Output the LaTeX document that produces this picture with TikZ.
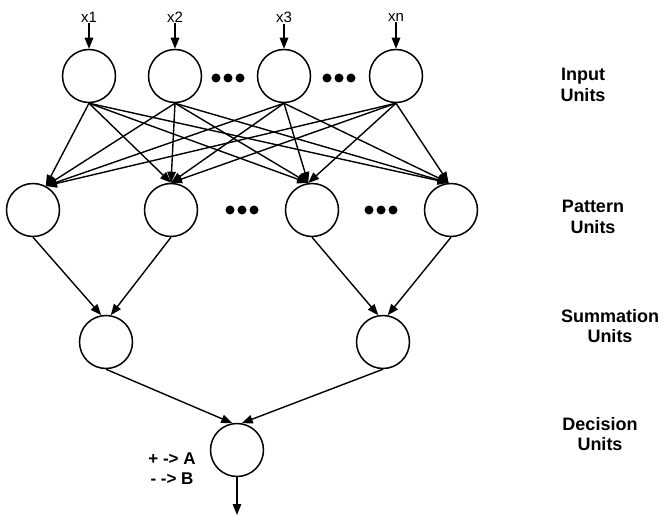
\documentclass[tikz,border=0pt]{standalone}
\usepackage{fontspec}
\setmainfont{Liberation Sans}
\usetikzlibrary{arrows.meta}
\begin{document}
\begin{tikzpicture}[x=1pt,y=-1pt,
  unit/.style={circle,draw,line width=1.5pt,minimum size=53pt,inner sep=0pt},
  conn/.style={line width=1.4pt,-{Triangle[length=11pt,width=8.5pt]}},
  lbl/.style={font=\fontsize{15}{17}\selectfont,inner sep=1pt},
  side/.style={font=\bfseries\fontsize{18}{20.5}\selectfont,align=center},
  dot/.style={circle,fill=black,minimum size=9pt,inner sep=0pt}]
\useasboundingbox (0,0) rectangle (662,516);
% input units
\node[unit] (i1) at (89,76) {};
\node[unit] (i2) at (175,76) {};
\node[unit] (i3) at (284,76) {};
\node[unit] (i4) at (396,76) {};
\node[lbl] (x1) at (89,17) {x1};
\node[lbl] (x2) at (175,17) {x2};
\node[lbl] (x3) at (284,17) {x3};
\node[lbl] (xn) at (396,17) {xn};
\foreach \a/\b in {x1/i1,x2/i2,x3/i3,xn/i4} \draw[conn] (\a) -- (\b);
% pattern units
\node[unit] (p1) at (33,210) {};
\node[unit] (p2) at (171,210) {};
\node[unit] (p3) at (312,210) {};
\node[unit] (p4) at (451,210) {};
% summation
\node[unit] (s1) at (106,342) {};
\node[unit] (s2) at (383,342) {};
% decision
\node[unit] (d) at (237,450) {};
\coordinate (out) at (237,515);
% dots
\foreach \x in {216,228,240,327,339,351} \node[dot] at (\x,78) {};
\foreach \x in {230,242,254,369,381,393} \node[dot] at (\x,210) {};
% input -> pattern
\foreach \i in {i1,i2,i3,i4} {
  \draw[conn] (\i.south) -- (p1.62);
  \draw[conn] (\i.south) -- (p2.90);
  \draw[conn] (\i.south) -- (p3.98);
  \draw[conn] (\i.south) -- (p4.95);
}
% pattern -> summation
\draw[conn] (p1.south) -- (s1.100);
\draw[conn] (p2.south) -- (s1.80);
\draw[conn] (p3.south) -- (s2.100);
\draw[conn] (p4.south) -- (s2.80);
% summation -> decision
\draw[conn] (s1.south) -- (d.100);
\draw[conn] (s2.south) -- (d.80);
\draw[conn] (d.south) -- (out);
% labels
\node[side,font=\bfseries\fontsize{17}{20}\selectfont] (rule) at (172,469) {+ -> A\\- -> B};
\node[side] (li) at (583,85) {Input\\Units};
\node[side] (lp) at (593,217) {Pattern\\Units};
\node[side] (ls) at (610,326) {Summation\\Units};
\node[side] (ld) at (600,434) {Decision\\Units};
\end{tikzpicture}
\end{document}
